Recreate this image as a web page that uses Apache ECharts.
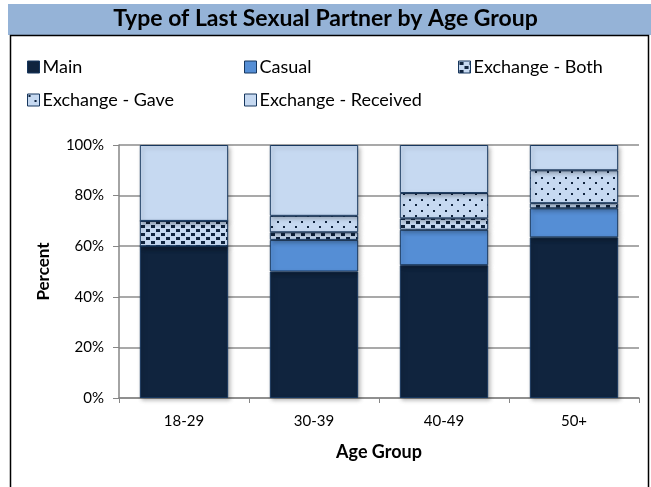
<!DOCTYPE html>
<html>
<head>
<meta charset="utf-8">
<script src="https://cdn.jsdelivr.net/npm/echarts@6/dist/echarts.min.js"></script>
<style>
  html, body { margin: 0; padding: 0; background: #fff; }
  #chart { width: 651px; height: 487px; }
</style>
</head>
<body>
<div id="chart"></div>
<script>
// data (percent of each age group)
const ageGroups = ['18-29', '30-39', '40-49', '50+'];
const seriesNames = ['Main', 'Casual', 'Exchange - Both', 'Exchange - Gave', 'Exchange - Received'];
const mainVals = [60, 50, 52.5, 63.5];
const casualVals = [0, 12.5, 14, 11.5];
const bothVals = [10, 3, 4.5, 2];
const gaveVals = [0, 6.5, 10, 13];
const receivedVals = [30, 28, 19, 10];
const yTicks = ['0%', '20%', '40%', '60%', '80%', '100%'];

const NAVY = '#10243e';
const EDGE = '#17375e';
const LIGHT = '#c6d9f1';
const FONT = 'Lato';

// little canvases for the hatched fills
function makePattern(w, h, draw) {
  const c = document.createElement('canvas');
  c.width = w; c.height = h;
  const ctx = c.getContext('2d');
  ctx.fillStyle = LIGHT;
  ctx.fillRect(0, 0, w, h);
  ctx.fillStyle = NAVY;
  draw(ctx);
  return { image: c, repeat: 'repeat' };
}
const bothFill = makePattern(10, 8, ctx => {
  ctx.fillRect(1, 1, 4, 3);
  ctx.fillRect(6, 5, 4, 3);
});
const gaveFill = makePattern(12, 11, ctx => {
  ctx.fillRect(1, 1, 2, 2);
  ctx.fillRect(7, 6, 2, 2);
});

const fills = [NAVY, '#558ed5', bothFill, gaveFill, LIGHT];
const values = [mainVals, casualVals, bothVals, gaveVals, receivedVals];

const chart = echarts.init(document.getElementById('chart'));

const legendPos = [
  [22, 53], [239, 53], [453, 53],
  [22, 86], [239, 86]
];

const option = {
  animation: false,
  textStyle: { fontFamily: FONT },
  graphic: [
    { type: 'rect', shape: { x: 8, y: 4, width: 643, height: 31 }, style: { fill: '#95b3d7' }, z: -10 },
    { type: 'rect', shape: { x: 10.5, y: 35.5, width: 638, height: 460 }, style: { fill: '#fff', stroke: '#000', lineWidth: 1.5 }, z: -10 },
    {
      type: 'text', left: 'center', top: 7,
      style: { text: 'Type of Last Sexual Partner by Age Group', font: 'bold 23px ' + FONT, fill: '#000' }
    }
  ],
  legend: seriesNames.map((n, i) => ({
    data: [n],
    left: legendPos[i][0],
    top: legendPos[i][1],
    itemWidth: 12,
    itemHeight: 12,
    itemGap: 4,
    icon: 'rect',
    itemStyle: { borderColor: EDGE, borderWidth: 1 },
    textStyle: { fontSize: 18, color: '#000', fontFamily: FONT, padding: [0, 0, 0, -2] },
    selectedMode: false
  })),
  grid: { left: 119, right: 12, top: 145, bottom: 89 },
  xAxis: {
    type: 'category',
    data: ageGroups,
    name: 'Age Group',
    nameLocation: 'middle',
    nameGap: 45,
    nameTextStyle: { fontSize: 18, fontWeight: 'bold', color: '#000', fontFamily: FONT },
    axisLine: { lineStyle: { color: '#868686', width: 1.5 } },
    axisTick: { show: true, length: 5, lineStyle: { color: '#868686' } },
    axisLabel: { fontSize: 15, color: '#000', margin: 16, fontFamily: FONT }
  },
  yAxis: {
    type: 'value',
    min: 0,
    max: 100,
    interval: 20,
    name: 'Percent',
    nameLocation: 'middle',
    nameRotate: 90,
    nameGap: 67,
    nameTextStyle: { fontSize: 17, fontWeight: 'bold', color: '#000', fontFamily: FONT },
    axisLine: { show: true, lineStyle: { color: '#868686', width: 1.5 } },
    axisTick: { show: true, length: 6, lineStyle: { color: '#868686' } },
    splitLine: { lineStyle: { color: '#8c8c8c', width: 1.5 } },
    axisLabel: {
      fontSize: 15, color: '#000', margin: 15, fontFamily: FONT,
      formatter: v => yTicks[v / 20]
    }
  },
  series: seriesNames.map((n, i) => ({
    name: n,
    type: 'bar',
    stack: 'all',
    barWidth: '68%',
    data: values[i],
    itemStyle: {
      color: fills[i],
      borderColor: EDGE,
      borderWidth: 1,
      shadowColor: 'rgba(0,0,0,0.25)',
      shadowBlur: 4,
      shadowOffsetX: 2,
      shadowOffsetY: 2
    }
  }))
};

chart.setOption(option);
</script>
</body>
</html>
